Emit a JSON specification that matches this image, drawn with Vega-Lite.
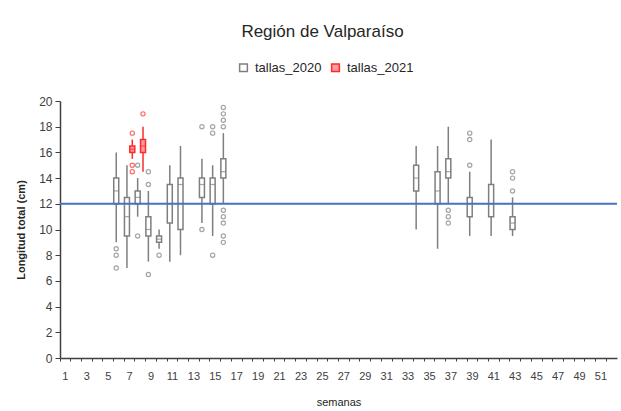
{
  "$schema": "https://vega.github.io/schema/vega-lite/v6.json",
  "width": 557,
  "height": 257,
  "autosize": "none",
  "padding": {"left": 60, "top": 101, "right": 4, "bottom": 53},
  "background": "white",
  "title": {"text": "Región de Valparaíso", "font": "Liberation Sans", "fontSize": 17, "fontWeight": "normal", "color": "#262626", "anchor": "middle", "frame": "group", "offset": 20, "dx": -16},
  "config": {
    "view": {"stroke": null},
    "axis": {"grid": false, "labelFont": "Liberation Sans", "titleFont": "Liberation Sans", "labelColor": "#404040", "titleColor": "#262626", "domainColor": "#404040", "tickColor": "#404040"},
    "legend": {"labelFont": "Liberation Sans"}
  },
  "datasets": {
    "boxes": [
      {"semana": 6, "serie": "tallas_2020", "min": 9, "q1": 12, "mediana": 13, "q3": 14, "max": 16},
      {"semana": 7, "serie": "tallas_2020", "min": 7, "q1": 9.5, "mediana": 11, "q3": 12.5, "max": 15},
      {"semana": 8, "serie": "tallas_2020", "min": 11, "q1": 12, "mediana": 12.5, "q3": 13, "max": 14},
      {"semana": 9, "serie": "tallas_2020", "min": 7.5, "q1": 9.5, "mediana": 10, "q3": 11, "max": 13},
      {"semana": 10, "serie": "tallas_2020", "min": 8.5, "q1": 9, "mediana": 9.25, "q3": 9.5, "max": 10},
      {"semana": 11, "serie": "tallas_2020", "min": 7.5, "q1": 10.5, "mediana": 12, "q3": 13.5, "max": 15},
      {"semana": 12, "serie": "tallas_2020", "min": 8, "q1": 10, "mediana": 13.5, "q3": 14, "max": 16.5},
      {"semana": 14, "serie": "tallas_2020", "min": 10.5, "q1": 12.5, "mediana": 13.5, "q3": 14, "max": 15.5},
      {"semana": 15, "serie": "tallas_2020", "min": 9.5, "q1": 12, "mediana": 13.5, "q3": 14, "max": 15},
      {"semana": 16, "serie": "tallas_2020", "min": 12, "q1": 14, "mediana": 14.5, "q3": 15.5, "max": 17.5},
      {"semana": 34, "serie": "tallas_2020", "min": 10, "q1": 13, "mediana": 14, "q3": 15, "max": 16.5},
      {"semana": 36, "serie": "tallas_2020", "min": 8.5, "q1": 12, "mediana": 13, "q3": 14.5, "max": 16.5},
      {"semana": 37, "serie": "tallas_2020", "min": 12, "q1": 14, "mediana": 14.5, "q3": 15.5, "max": 18},
      {"semana": 39, "serie": "tallas_2020", "min": 9.5, "q1": 11, "mediana": 12, "q3": 12.5, "max": 14.5},
      {"semana": 41, "serie": "tallas_2020", "min": 9.5, "q1": 11, "mediana": 12, "q3": 13.5, "max": 17},
      {"semana": 43, "serie": "tallas_2020", "min": 9.5, "q1": 10, "mediana": 10.5, "q3": 11, "max": 12.5},
      {"semana": 7, "serie": "tallas_2021", "min": 15.5, "q1": 16, "mediana": 16.25, "q3": 16.5, "max": 17},
      {"semana": 8, "serie": "tallas_2021", "min": 14.5, "q1": 16, "mediana": 16.5, "q3": 17, "max": 18}
    ],
    "outliers": [
      {"semana": 6, "serie": "tallas_2020", "talla": 8.5},
      {"semana": 6, "serie": "tallas_2020", "talla": 8},
      {"semana": 6, "serie": "tallas_2020", "talla": 7},
      {"semana": 8, "serie": "tallas_2020", "talla": 15},
      {"semana": 8, "serie": "tallas_2020", "talla": 9.5},
      {"semana": 9, "serie": "tallas_2020", "talla": 14.5},
      {"semana": 9, "serie": "tallas_2020", "talla": 13.5},
      {"semana": 9, "serie": "tallas_2020", "talla": 6.5},
      {"semana": 10, "serie": "tallas_2020", "talla": 8},
      {"semana": 14, "serie": "tallas_2020", "talla": 18},
      {"semana": 14, "serie": "tallas_2020", "talla": 10},
      {"semana": 15, "serie": "tallas_2020", "talla": 18},
      {"semana": 15, "serie": "tallas_2020", "talla": 17.5},
      {"semana": 15, "serie": "tallas_2020", "talla": 8},
      {"semana": 16, "serie": "tallas_2020", "talla": 19.5},
      {"semana": 16, "serie": "tallas_2020", "talla": 19},
      {"semana": 16, "serie": "tallas_2020", "talla": 18.5},
      {"semana": 16, "serie": "tallas_2020", "talla": 18},
      {"semana": 16, "serie": "tallas_2020", "talla": 11.5},
      {"semana": 16, "serie": "tallas_2020", "talla": 11},
      {"semana": 16, "serie": "tallas_2020", "talla": 10.5},
      {"semana": 16, "serie": "tallas_2020", "talla": 9.5},
      {"semana": 16, "serie": "tallas_2020", "talla": 9},
      {"semana": 37, "serie": "tallas_2020", "talla": 11.5},
      {"semana": 37, "serie": "tallas_2020", "talla": 11},
      {"semana": 37, "serie": "tallas_2020", "talla": 10.5},
      {"semana": 39, "serie": "tallas_2020", "talla": 17.5},
      {"semana": 39, "serie": "tallas_2020", "talla": 17},
      {"semana": 39, "serie": "tallas_2020", "talla": 15},
      {"semana": 43, "serie": "tallas_2020", "talla": 14.5},
      {"semana": 43, "serie": "tallas_2020", "talla": 14},
      {"semana": 43, "serie": "tallas_2020", "talla": 13},
      {"semana": 7, "serie": "tallas_2021", "talla": 17.5},
      {"semana": 7, "serie": "tallas_2021", "talla": 15},
      {"semana": 7, "serie": "tallas_2021", "talla": 14.5},
      {"semana": 8, "serie": "tallas_2021", "talla": 19}
    ],
    "ref": [{"nivel": 12}]
  },
  "encoding": {
    "x": {
      "field": "semana", "type": "ordinal",
      "scale": {"domain": [1,2,3,4,5,6,7,8,9,10,11,12,13,14,15,16,17,18,19,20,21,22,23,24,25,26,27,28,29,30,31,32,33,34,35,36,37,38,39,40,41,42,43,44,45,46,47,48,49,50,51,52], "paddingInner": 0, "paddingOuter": 0},
      "axis": {"title": "semanas", "titleFontSize": 11, "titleFontWeight": "normal", "titlePadding": 15, "labelAngle": 0, "labelFontSize": 11, "labelPadding": 9, "tickSize": 3, "bandPosition": 0, "labelExpr": "datum.value % 2 == 1 ? datum.label : ''", "domainWidth": 1.5}
    },
    "xOffset": {"field": "serie", "type": "nominal", "scale": {"domain": ["tallas_2020", "tallas_2021"], "paddingInner": 0, "paddingOuter": 0}},
    "y": {"type": "quantitative", "scale": {"domain": [0, 20], "nice": false},
      "axis": {"title": "Longitud total (cm)", "titleFontSize": 11, "titleFontWeight": "bold", "titlePadding": 12, "values": [0,2,4,6,8,10,12,14,16,18,20], "labelOverlap": false, "labelSeparation": -40, "labelFontSize": 12, "tickSize": 5, "labelPadding": 3, "domainWidth": 1.5}}
  },
  "layer": [
    {
      "data": {"name": "boxes"},
      "mark": {"type": "rule", "strokeWidth": 1.5},
      "encoding": {
        "y": {"field": "min"},
        "y2": {"field": "max"},
        "stroke": {"field": "serie", "type": "nominal", "scale": {"domain": ["tallas_2020", "tallas_2021"], "range": ["#7f7f7f", "#ff2a2a"]}}
      }
    },
    {
      "data": {"name": "boxes"},
      "mark": {"type": "bar", "size": 5, "strokeWidth": 1.5},
      "encoding": {
        "y": {"field": "q1"},
        "y2": {"field": "q3"},
        "fill": {"field": "serie", "type": "nominal", "scale": {"domain": ["tallas_2020", "tallas_2021"], "range": ["#ffffff", "#ff9c9c"]}, "legend": {"title": null, "orient": "none", "legendX": 177, "legendY": -40, "direction": "horizontal", "symbolType": "square", "symbolSize": 60, "symbolStrokeWidth": 1.5, "labelFontSize": 13, "labelColor": "#262626", "columnPadding": 6, "labelOffset": 5}},
        "stroke": {"field": "serie", "type": "nominal", "legend": {"title": null, "orient": "none", "legendX": 177, "legendY": -40, "direction": "horizontal", "symbolType": "square", "symbolSize": 60, "symbolStrokeWidth": 1.5, "labelFontSize": 13, "labelColor": "#262626", "columnPadding": 6, "labelOffset": 5}}
      }
    },
    {
      "data": {"name": "boxes"},
      "mark": {"type": "tick", "orient": "horizontal", "size": 5, "thickness": 1.2},
      "encoding": {
        "y": {"field": "mediana"},
        "color": {"field": "serie", "type": "nominal", "scale": {"domain": ["tallas_2020", "tallas_2021"], "range": ["#7f7f7f", "#ff2a2a"]}, "legend": null}
      }
    },
    {
      "data": {"name": "outliers"},
      "mark": {"type": "point", "shape": "circle", "size": 18, "strokeWidth": 1.2, "filled": false},
      "encoding": {
        "y": {"field": "talla"},
        "stroke": {"field": "serie", "type": "nominal"}
      }
    },
    {
      "data": {"name": "ref"},
      "mark": {"type": "rule", "color": "#4472c4", "strokeWidth": 2},
      "encoding": {
        "x": null,
        "xOffset": null,
        "y": {"field": "nivel"}
      }
    }
  ]
}
